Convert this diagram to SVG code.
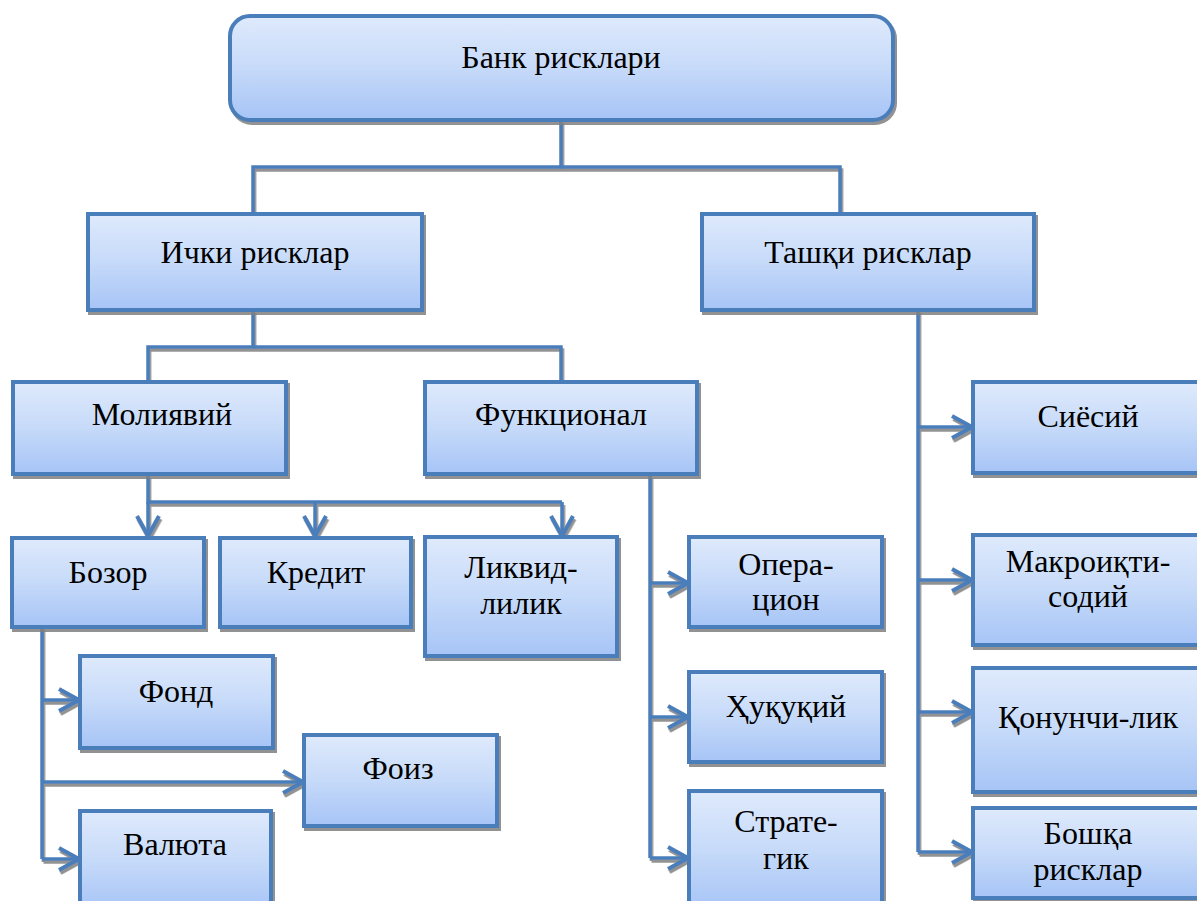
<svg xmlns="http://www.w3.org/2000/svg" width="1197" height="901" viewBox="0 0 1197 901">
<style>
.box{fill:url(#g);stroke:#4a7ebb;stroke-width:4;filter:url(#bs)}
.c{fill:none;stroke:#4a7ebb;stroke-width:3.5;stroke-linejoin:miter}
.a{marker-end:url(#ah)}
</style>
<defs>
<linearGradient id="g" x1="0" y1="0" x2="0" y2="1">
<stop offset="0" stop-color="#dfeafc"/>
<stop offset="0.5" stop-color="#c6daf9"/>
<stop offset="1" stop-color="#a6c4f6"/>
</linearGradient>
<filter id="bs" x="-5%" y="-5%" width="115%" height="120%">
<feDropShadow dx="2" dy="3" stdDeviation="0.6" flood-color="#7f7f7f" flood-opacity="0.85"/>
</filter>
<filter id="ls" x="0" y="0" width="1197" height="901" filterUnits="userSpaceOnUse">
<feDropShadow dx="1.5" dy="3" stdDeviation="0.6" flood-color="#7f7f7f" flood-opacity="0.85"/>
</filter>
<marker id="ah" markerUnits="userSpaceOnUse" orient="auto" markerWidth="30" markerHeight="30" refX="0" refY="0" viewBox="-25 -15 30 30" overflow="visible">
<path d="M-20,-11 L0,0 L-20,11" fill="none" stroke="#4a7ebb" stroke-width="4" stroke-linejoin="miter"/>
</marker>
</defs>
<rect width="1197" height="901" fill="#fff"/>
<g id="connectors" filter="url(#ls)">
<path class="c" d="M561,120 V167 M253,214 V167 H840 V214"/>
<path class="c" d="M253,310 V347 M148,382 V347 H561 V382"/>
<path class="c" d="M148,475 V502 H562"/>
<path class="c a" d="M148,502 V536"/>
<path class="c a" d="M315,502 V536"/>
<path class="c a" d="M562,502 V536"/>
<path class="c" d="M42,627 V859"/>
<path class="c a" d="M42,700 H79"/>
<path class="c a" d="M42,782 H303"/>
<path class="c a" d="M42,859 H79"/>
<path class="c" d="M650,475 V858"/>
<path class="c a" d="M650,583 H688"/>
<path class="c a" d="M650,717 H688"/>
<path class="c a" d="M650,858 H688"/>
<path class="c" d="M918,310 V852"/>
<path class="c a" d="M918,427 H972"/>
<path class="c a" d="M918,580 H972"/>
<path class="c a" d="M918,712 H972"/>
<path class="c a" d="M918,852 H972"/>
</g>
<g font-family="Liberation Serif, Times New Roman, DejaVu Serif, serif" font-size="32" fill="#000" text-anchor="middle">
<g id="n-bank"><rect class="box" x="230" y="16" width="663" height="104" rx="20"/><text x="561" y="68">Банк рисклари</text></g>
<g id="n-ichki"><rect class="box" x="88" y="214" width="334" height="96"/><text x="255" y="263">Ички рисклар</text></g>
<g id="n-tashqi"><rect class="box" x="702" y="214" width="332" height="96"/><text x="868" y="263">Ташқи рисклар</text></g>
<g id="n-moliyaviy"><rect class="box" x="13" y="382" width="273" height="92"/><text x="162" y="425">Молиявий</text></g>
<g id="n-funksional"><rect class="box" x="425" y="382" width="272" height="92"/><text x="561" y="425">Функционал</text></g>
<g id="n-bozor"><rect class="box" x="12" y="538" width="192" height="89"/><text x="108" y="583">Бозор</text></g>
<g id="n-kredit"><rect class="box" x="220" y="538" width="191" height="89"/><text x="316" y="583">Кредит</text></g>
<g id="n-likvid"><rect class="box" x="425" y="537" width="192" height="119"/><text x="521" y="578">Ликвид-</text><text x="521" y="614">лилик</text></g>
<g id="n-fond"><rect class="box" x="80" y="656" width="193" height="92"/><text x="176" y="702">Фонд</text></g>
<g id="n-foiz"><rect class="box" x="304" y="735" width="193" height="91"/><text x="398" y="779">Фоиз</text></g>
<g id="n-valyuta"><rect class="box" x="80" y="811" width="191" height="100"/><text x="175" y="855">Валюта</text></g>
<g id="n-operatsion"><rect class="box" x="689" y="537" width="193" height="90"/><text x="786" y="575">Опера-</text><text x="786" y="610">цион</text></g>
<g id="n-huquqiy"><rect class="box" x="689" y="672" width="193" height="90"/><text x="786" y="717">Ҳуқуқий</text></g>
<g id="n-strategik"><rect class="box" x="689" y="791" width="193" height="120"/><text x="786" y="832">Страте-</text><text x="786" y="869">гик</text></g>
<g id="n-siyosiy"><rect class="box" x="973" y="382" width="230" height="91"/><text x="1088" y="427">Сиёсий</text></g>
<g id="n-makro"><rect class="box" x="973" y="535" width="230" height="110"/><text x="1088" y="572">Макроиқти-</text><text x="1088" y="607">содий</text></g>
<g id="n-qonunchilik"><rect class="box" x="973" y="668" width="230" height="124"/><text x="1088" y="728">Қонунчи-лик</text></g>
<g id="n-boshqa"><rect class="box" x="973" y="808" width="230" height="90"/><text x="1088" y="844">Бошқа</text><text x="1088" y="880">рисклар</text></g>
</g>
</svg>
